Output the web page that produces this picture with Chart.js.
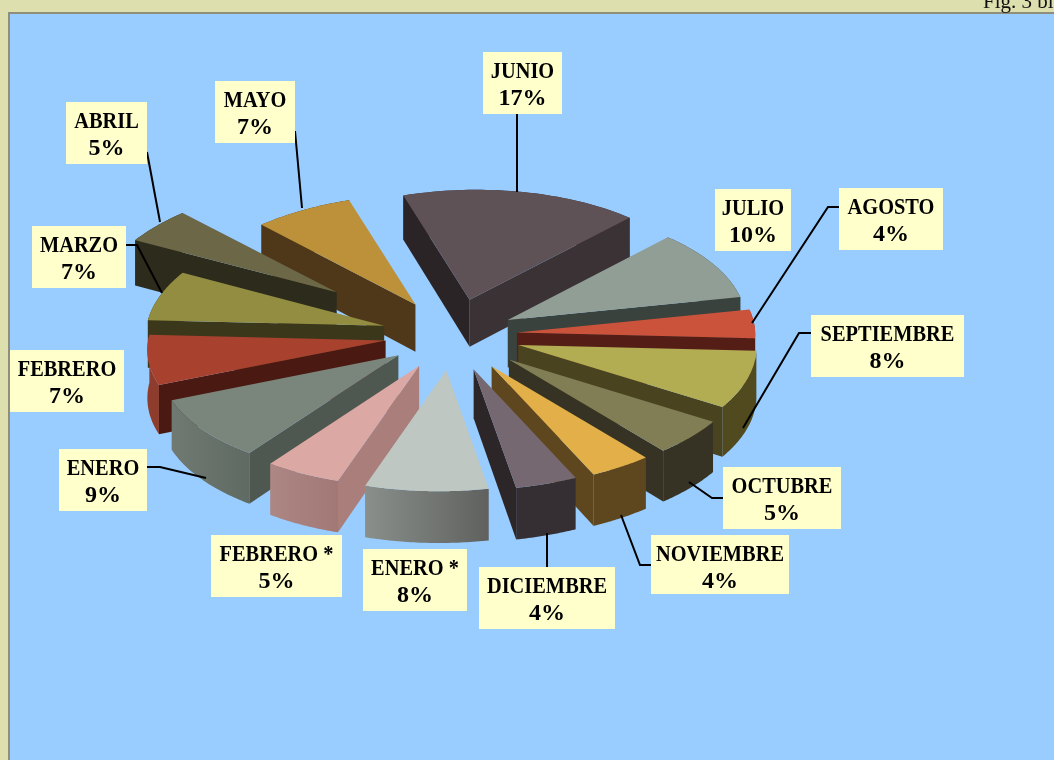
<!DOCTYPE html>
<html>
<head>
<meta charset="utf-8">
<title>Fig. 3</title>
<script src="https://cdn.jsdelivr.net/npm/chart.js@4"></script>
<style>
    html, body { margin: 0; padding: 0; overflow: hidden; background: #DEDFAF; }
    canvas { display: block; }
</style>
</head>
<body>
<canvas id="chart1" width="1054" height="760"></canvas>
<script>
// data
var months = ["JUNIO", "JULIO", "AGOSTO", "SEPTIEMBRE", "OCTUBRE", "NOVIEMBRE", "DICIEMBRE",
    "ENERO *", "FEBRERO *", "ENERO", "FEBRERO", "MARZO", "ABRIL", "MAYO"];
var percents = [17, 10, 4, 8, 5, 4, 4, 8, 5, 9, 7, 7, 5, 7];

// how far each slice is pulled out
var explode = [75, 63, 65, 70, 77, 76, 74, 72, 70, 67, 67, 71, 148, 74];

var topColors = ["#5F5257", "#919E95", "#CB523B", "#B2AC53", "#817E56", "#E2AF49", "#766870",
    "#BEC7C2", "#DCA8A3", "#7A857C", "#A9412F", "#928D40", "#6B6747", "#BC9139"];
var startWallColors = ["#2A2426", "#3A423D", "#541E17", "#4A4320", "#363324", "#5E471E", "#352E32",
    "#A9A9A9", "#A97E7B", "#4F5850", "#4A1A12", "#3A371A", "#2C2B1C", "#4E3819"];
var endWallColors = ["#3A3234", "#3A423D", "#541E17", "#4A4320", "#363324", "#5E471E", "#2C2629",
    "#555855", "#A97E7B", "#4F5850", "#4A1A12", "#3A371A", "#2C2B1C", "#4E3819"];
var rimLeft = ["#3A3234", "#3A423D", "#8E3B2A", "#514A1F", "#363324", "#5E471E", "#352E32",
    "#8A8F8B", "#AC8784", "#707A72", "#8E3D2C", "#3A371A", "#2C2B1C", "#4E3819"];
var rimRight = ["#3A3234", "#3A423D", "#8E3B2A", "#514A1F", "#363324", "#5E471E", "#352E32",
    "#5F615E", "#A27875", "#5F6A62", "#8E3D2C", "#3A371A", "#2C2B1C", "#4E3819"];

// label boxes: x, y, width, height
var labelBoxes = [[483, 52, 79, 62], [715, 189, 76, 62], [839, 188, 104, 62], [811, 315, 153, 62],
    [723, 467, 118, 62], [651, 535, 138, 59], [479, 567, 136, 62], [363, 549, 104, 62],
    [211, 535, 131, 62], [59, 449, 88, 62], [10, 350, 114, 62], [32, 226, 94, 62],
    [66, 102, 81, 62], [215, 81, 80, 62]];

// leader lines from the boxes to the slices
var leaders = [
    [[517, 114], [517, 192]],
    [[839, 207], [828, 207], [752, 323]],
    [[811, 333], [799, 333], [743, 428]],
    [[723, 498], [712, 498], [689, 482]],
    [[651, 565], [640, 565], [621, 515]],
    [[547, 567], [547, 533]],
    [[147, 467], [160, 467], [206, 478]],
    [[126, 245], [137, 245], [162, 293]],
    [[147, 152], [160, 222]],
    [[295, 131], [302, 208]]
];

var tilt = 0.485;
var depth = 48;

// squash the flat pie into the tilted view, h is the height below the top face
function project(cx, cy, R, X, Y, h) {
    return [cx + X, cy - 0.015 * X + tilt * Y * (1 + 0.03 * Y / R) + h * (1 + 0.06 * Y / R)];
}

function polygon(ctx, pts, fill) {
    ctx.beginPath();
    ctx.moveTo(pts[0][0], pts[0][1]);
    for (var i = 1; i < pts.length; i++) {
        ctx.lineTo(pts[i][0], pts[i][1]);
    }
    ctx.closePath();
    ctx.fillStyle = fill;
    ctx.fill();
}

function drawSlice(ctx, arc, i) {
    var cx = arc.x, cy = arc.y, R = arc.outerRadius;
    var mid = (arc.startAngle + arc.endAngle) / 2;
    var ox = Math.cos(mid) * explode[i];
    var oy = Math.sin(mid) * explode[i];

    var rimTop = [];
    var rimBottom = [];
    var steps = 40;
    for (var s = 0; s <= steps; s++) {
        var a = arc.startAngle + (arc.endAngle - arc.startAngle) * s / steps;
        // near parts look a bit wider than far parts
        var wide = 1 + 0.05 * Math.sin(a);
        var X = ox + Math.cos(a) * R * wide;
        var Y = oy + Math.sin(a) * R;
        rimTop.push(project(cx, cy, R, X, Y, 0));
        rimBottom.unshift(project(cx, cy, R, X, Y, depth));
    }

    var apexTop = project(cx, cy, R, ox, oy, 0);
    var apexBottom = project(cx, cy, R, ox, oy, depth);

    var minX = Infinity, maxX = -Infinity;
    rimTop.forEach(function (p) {
        minX = Math.min(minX, p[0]);
        maxX = Math.max(maxX, p[0]);
    });
    var rim = ctx.createLinearGradient(minX, 0, maxX, 0);
    rim.addColorStop(0, rimLeft[i]);
    rim.addColorStop(1, rimRight[i]);
    polygon(ctx, rimTop.concat(rimBottom), rim);

    // only the walls that face the viewer
    if (Math.cos(arc.startAngle) < 0) {
        polygon(ctx, [apexTop, rimTop[0], rimBottom[steps], apexBottom], startWallColors[i]);
    }
    if (Math.cos(arc.endAngle) > 0) {
        polygon(ctx, [apexTop, rimTop[steps], rimBottom[0], apexBottom], endWallColors[i]);
    }

    polygon(ctx, [apexTop].concat(rimTop), topColors[i]);
}

var pie3d = {
    id: "pie3d",
    beforeDraw: function (chart) {
        var ctx = chart.ctx;
        ctx.save();
        ctx.fillStyle = "#DEDFAF";
        ctx.fillRect(0, 0, 1054, 760);
        ctx.fillStyle = "#8E8E7A";
        ctx.fillRect(8, 12, 1046, 748);
        ctx.fillStyle = "#99CCFF";
        ctx.fillRect(10, 14, 1044, 746);
        ctx.fillStyle = "#111111";
        ctx.font = "21px 'Liberation Serif'";
        ctx.textAlign = "left";
        ctx.textBaseline = "alphabetic";
        ctx.fillText("Fig. 3 bi", 983, 8);
        ctx.restore();
    },
    beforeDatasetsDraw: function (chart) {
        var ctx = chart.ctx;
        var arcs = chart.getDatasetMeta(0).data;

        // back slices first
        var order = arcs.map(function (arc, i) { return i; });
        order.sort(function (a, b) {
            var ma = (arcs[a].startAngle + arcs[a].endAngle) / 2;
            var mb = (arcs[b].startAngle + arcs[b].endAngle) / 2;
            return Math.sin(ma) - Math.sin(mb);
        });

        ctx.save();
        order.forEach(function (i) { drawSlice(ctx, arcs[i], i); });

        ctx.strokeStyle = "#000000";
        ctx.lineWidth = 2;
        leaders.forEach(function (line) {
            ctx.beginPath();
            ctx.moveTo(line[0][0], line[0][1]);
            for (var j = 1; j < line.length; j++) {
                ctx.lineTo(line[j][0], line[j][1]);
            }
            ctx.stroke();
        });

        // labels
        ctx.textAlign = "center";
        ctx.textBaseline = "alphabetic";
        ctx.font = "bold 24px 'Liberation Serif'";
        for (var i = 0; i < months.length; i++) {
            var box = labelBoxes[i];
            var mx = box[0] + box[2] / 2;
            var name = months[i];
            var pct = percents[i] + "%";
            ctx.fillStyle = "#FFFFCC";
            ctx.fillRect(box[0], box[1], box[2], box[3]);
            ctx.fillStyle = "#000000";
            ctx.fillText(name, mx, box[1] + 26, ctx.measureText(name).width * 0.85);
            ctx.fillText(pct, mx, box[1] + 53);
        }
        ctx.restore();
        return false;
    }
};

new Chart(document.getElementById("chart1"), {
    type: "pie",
    data: {
        labels: months,
        datasets: [{
            label: "Porcentaje",
            data: percents,
            backgroundColor: topColors,
            borderWidth: 0
        }]
    },
    options: {
        responsive: false,
        animation: false,
        rotation: -17,
        radius: 238,
        layout: { padding: { right: 150, bottom: 90 } },
        plugins: {
            legend: { display: false },
            tooltip: { enabled: false }
        }
    },
    plugins: [pie3d]
});
</script>
</body>
</html>
